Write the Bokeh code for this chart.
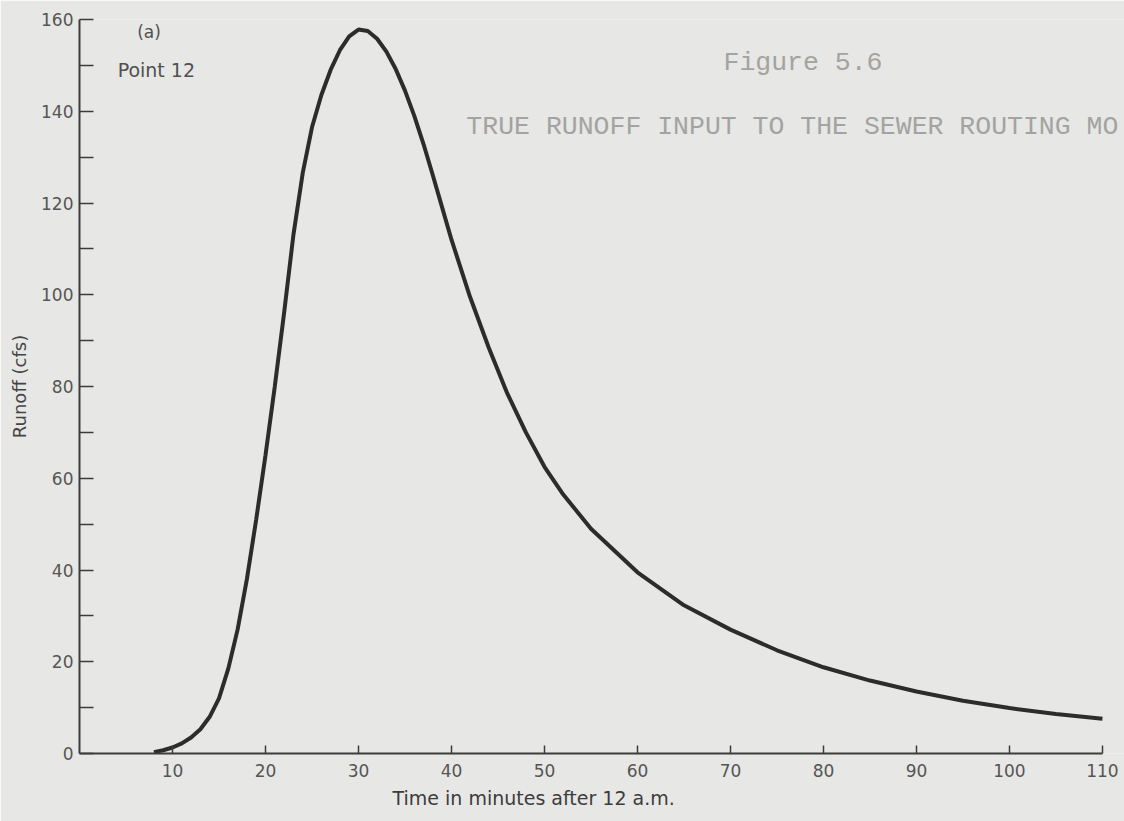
from bokeh.plotting import figure
from bokeh.models import FixedTicker, Label, Range1d, Title
from bokeh.embed import file_html
from bokeh.resources import INLINE

# Runoff hydrograph, Point 12
time_min = [8, 9, 10, 11, 12, 13, 14, 15, 16, 17, 18, 19, 20, 21, 22, 23, 24, 25,
            26, 27, 28, 29, 30, 31, 32, 33, 34, 35, 36, 37, 38, 39, 40, 42, 44,
            46, 48, 50, 52, 55, 60, 65, 70, 75, 80, 85, 90, 95, 100, 105, 110]
runoff_cfs = [0.3, 0.7, 1.3, 2.2, 3.5, 5.3, 8.0, 12.0, 18.5, 27.0, 38.0, 51.0,
              65.0, 80.0, 96.0, 113.0, 126.5, 136.5, 143.5, 149.0, 153.3, 156.3,
              157.8, 157.5, 155.8, 153.0, 149.2, 144.5, 139.0, 132.8, 126.0,
              119.0, 112.0, 99.5, 88.5, 78.5, 70.0, 62.5, 56.5, 49.0, 39.5, 32.3,
              27.0, 22.5, 18.8, 15.9, 13.5, 11.5, 9.9, 8.6, 7.6]

x_ticks = [10, 20, 30, 40, 50, 60, 70, 80, 90, 100, 110]
y_ticks = [0, 10, 20, 30, 40, 50, 60, 70, 80, 90, 100, 110, 120, 130, 140, 150, 160]
y_tick_labels = {v: (str(v) if v % 20 == 0 else "") for v in y_ticks}

x_title = "Time in minutes after 12 a.m."
y_title = "Runoff (cfs)"
panel_tag = "(a)"
panel_name = "Point 12"
caption_1 = "Figure 5.6"
caption_2 = "TRUE RUNOFF INPUT TO THE SEWER ROUTING MO"

paper = "#e7e7e5"
ink = "#2c2c2c"
label_col = "#555555"
typed_col = "#a3a3a1"
wide_font = "DejaVu Sans"

p = figure(width=1124, height=821, output_backend="svg", toolbar_location=None,
           x_range=Range1d(0, 112.37), y_range=Range1d(0, 160),
           min_border_left=79, min_border_right=0, min_border_top=19,
           min_border_bottom=68)
p.background_fill_color = paper
p.border_fill_color = paper
p.outline_line_color = None
p.xgrid.visible = False
p.ygrid.visible = False

p.line(time_min, runoff_cfs, line_color=ink, line_width=4)

# x axis
xa = p.xaxis[0]
xa.bounds = (0, 110)
xa.ticker = FixedTicker(ticks=x_ticks)
xa.major_tick_in = 8
xa.major_tick_out = 0
xa.minor_tick_line_color = None
xa.axis_line_color = "#3c3c3c"
xa.axis_line_width = 2
xa.major_tick_line_color = "#3c3c3c"
xa.major_tick_line_width = 1.5
xa.major_label_text_color = label_col
xa.major_label_text_font = wide_font
xa.major_label_text_font_size = "17px"
xa.major_label_standoff = 10

# y axis
ya = p.yaxis[0]
ya.ticker = FixedTicker(ticks=y_ticks)
ya.major_label_overrides = y_tick_labels
ya.major_tick_in = 14
ya.major_tick_out = 0
ya.minor_tick_line_color = None
ya.axis_line_color = "#3c3c3c"
ya.axis_line_width = 2
ya.major_tick_line_color = "#3c3c3c"
ya.major_tick_line_width = 1.5
ya.major_label_text_color = label_col
ya.major_label_text_font = wide_font
ya.major_label_text_font_size = "17px"
ya.major_label_standoff = 6
ya.axis_label = y_title
ya.axis_label_text_font = wide_font
ya.axis_label_text_font_style = "normal"
ya.axis_label_text_font_size = "18px"
ya.axis_label_text_color = "#444444"
ya.axis_label_standoff = 8

# x title, shifted left as in the hand-lettered original
p.add_layout(Title(text=x_title, align="left", offset=313, standoff=10,
                   text_font=wide_font, text_font_style="normal",
                   text_font_size="19px", text_color="#3c3c3c"), "below")

# panel annotations
p.add_layout(Label(x=6.2, y=157.2, text=panel_tag, text_font=wide_font,
                   text_font_size="17px", text_color="#505050",
                   text_baseline="middle"))
p.add_layout(Label(x=4.1, y=148.9, text=panel_name, text_font=wide_font,
                   text_font_size="19px", text_color="#505050",
                   text_baseline="middle"))

# typed caption seen through the page
p.add_layout(Label(x=69.25, y=150.6, text=caption_1, text_font="Liberation Mono",
                   text_font_size="26.5px", text_color=typed_col,
                   text_baseline="middle"))
p.add_layout(Label(x=41.6, y=136.5, text=caption_2, text_font="Liberation Mono",
                   text_font_size="26.5px", text_color=typed_col,
                   text_baseline="middle"))

open("out.html", "w").write(file_html(p, INLINE))
